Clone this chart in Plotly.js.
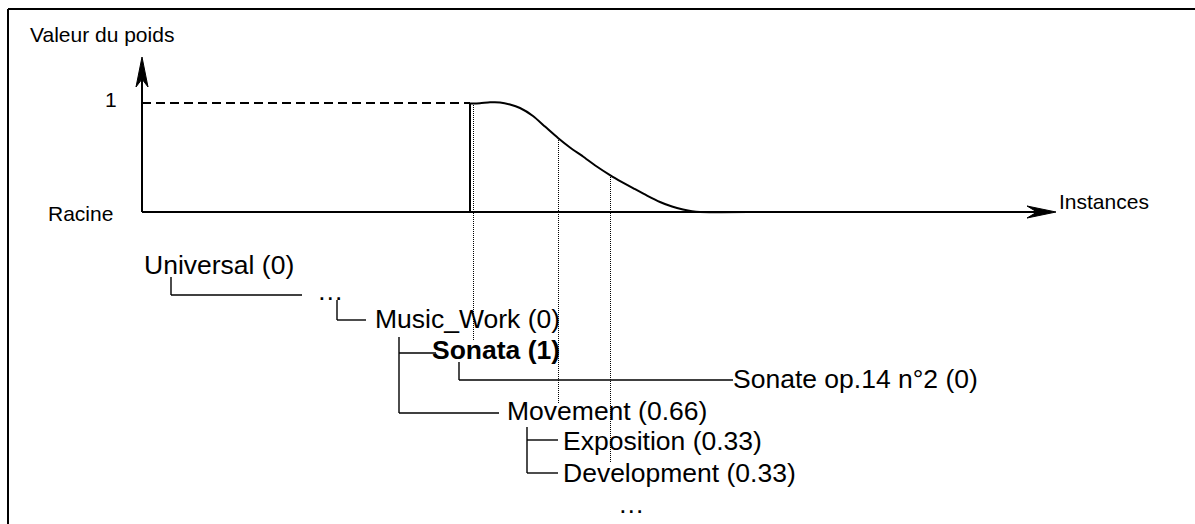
<!DOCTYPE html>
<html>
<head>
<meta charset="utf-8">
<script src="https://cdn.plot.ly/plotly-3.0.1.min.js"></script>
<style>html,body{margin:0;padding:0;background:#fff;}#chart{width:1195px;height:524px;}</style>
</head>
<body>
<div id="chart"></div>
<script>
// ---- data ----
// weight curve: instance position vs weight value
const instancePos = [470, 480, 490, 500, 510, 520, 533, 545, 558, 570, 583, 596, 610, 622, 633, 647, 660, 672, 683, 692, 700, 748];
const weightVal   = [0.995, 0.998, 1.006, 1.005, 0.986, 0.954, 0.881, 0.784, 0.679, 0.592, 0.509, 0.422, 0.339, 0.275, 0.220, 0.151, 0.092, 0.050, 0.023, 0.007, 0.0, 0.0];
// ontology nodes and their weights
const nodeNames   = ['Universal', '…', 'Music_Work', 'Sonata', 'Sonate op.14 n°2', 'Movement', 'Exposition', 'Development', '…'];
const nodeWeights = [0, null, 0, 1, 0, 0.66, 0.33, 0.33, null];
const nodeBold    = [false, false, false, true, false, false, false, false, false];
// axis labels
const yAxisLabel = 'Valeur du poids';
const xAxisLabel = 'Instances';
const yTickOne = '1';
const originLabel = 'Racine';

// ---- layout (positions, not data) ----
const nodeLayoutX = [142, 315, 373, 430, 731, 505, 561, 561, 616];
const nodeLayoutY = [265, 290.5, 319, 350, 379, 411, 440.5, 472.5, 503.5];

const FONT = 'Liberation Sans, Arial, sans-serif';
const BIG = 26.5, SMALL = 21;

const shapes = [];
function seg(x0, y0, x1, y1, w, dash, yref) {
  shapes.push({type: 'line', xref: 'x', yref: yref || 'y', x0: x0, y0: y0, x1: x1, y1: y1,
    line: {color: '#000', width: w, dash: dash || 'solid'}, layer: 'above'});
}
// frame (top and left)
seg(8, 9, 1195, 9, 2);
seg(8, 9, 8, 524, 2);
// axes
seg(142, 212, 1040, 212, 2);
seg(142, 212, 142, 70, 2);
shapes.push({type: 'path', xref: 'x', yref: 'y', path: 'M 1056 212 L 1027 206 L 1037 212 L 1027 218 Z',
  fillcolor: '#000', line: {color: '#000', width: 1}});
shapes.push({type: 'path', xref: 'x', yref: 'y', path: 'M 142 57 L 136 87 L 142 79 L 148 87 Z',
  fillcolor: '#000', line: {color: '#000', width: 1}});
// dashed line at weight 1 and solid vertical (on weight axis)
seg(142, 1, 470, 1, 1.8, '9px,5px', 'y2');
seg(470, 0, 470, 1, 2, 'solid', 'y2');
// dotted projections
seg(473.5, 103, 473.5, 340, 1, '1px,1px');
seg(558.5, 138, 558.5, 403, 1, '1px,1px');
seg(610.5, 175, 610.5, 462, 1, '1px,1px');
// tree connectors
const TW = 1.4;
seg(171, 277, 171, 295, TW); seg(171, 295, 302, 295, TW);
seg(337, 300, 337, 320, TW); seg(337, 320, 366, 320, TW);
seg(399, 337, 399, 413, TW); seg(399, 413, 499, 413, TW);
seg(399, 353, 436, 353, TW);
seg(459, 362, 459, 380, TW); seg(459, 380, 733, 380, TW);
seg(527, 427, 527, 473, TW); seg(527, 440, 558, 440, TW); seg(527, 473, 558, 473, TW);

const annotations = [];
function label(text, x, y, size) {
  annotations.push({text: text, x: x, y: y, xref: 'x', yref: 'y', xanchor: 'left', yanchor: 'middle',
    showarrow: false, font: {family: FONT, size: size, color: '#000'}});
}
label(yAxisLabel, 28, 34.5, SMALL);
label(yTickOne, 103, 99.5, SMALL);
label(originLabel, 46, 213.5, SMALL);
label(xAxisLabel, 1057, 201.5, SMALL);
for (let i = 0; i < nodeNames.length; i++) {
  let t = nodeNames[i];
  if (nodeWeights[i] !== null) t += ' (' + nodeWeights[i] + ')';
  if (nodeBold[i]) t = '<b>' + t + '</b>';
  label(t, nodeLayoutX[i], nodeLayoutY[i], BIG);
}

const traces = [{
  type: 'scatter', mode: 'lines', x: instancePos, y: weightVal, yaxis: 'y2',
  line: {color: '#000', width: 2, shape: 'spline', smoothing: 0.6}, hoverinfo: 'skip'
}];

const layout = {
  width: 1195, height: 524,
  margin: {l: 0, r: 0, t: 0, b: 0},
  paper_bgcolor: '#fff', plot_bgcolor: '#fff',
  showlegend: false,
  xaxis: {range: [0, 1195], visible: false, fixedrange: true},
  yaxis: {range: [524, 0], visible: false, fixedrange: true},
  yaxis2: {range: [-2.8624, 1.9449], overlaying: 'y', visible: false, fixedrange: true},
  shapes: shapes,
  annotations: annotations
};
Plotly.newPlot('chart', traces, layout, {staticPlot: true, displayModeBar: false});
</script>
</body>
</html>
